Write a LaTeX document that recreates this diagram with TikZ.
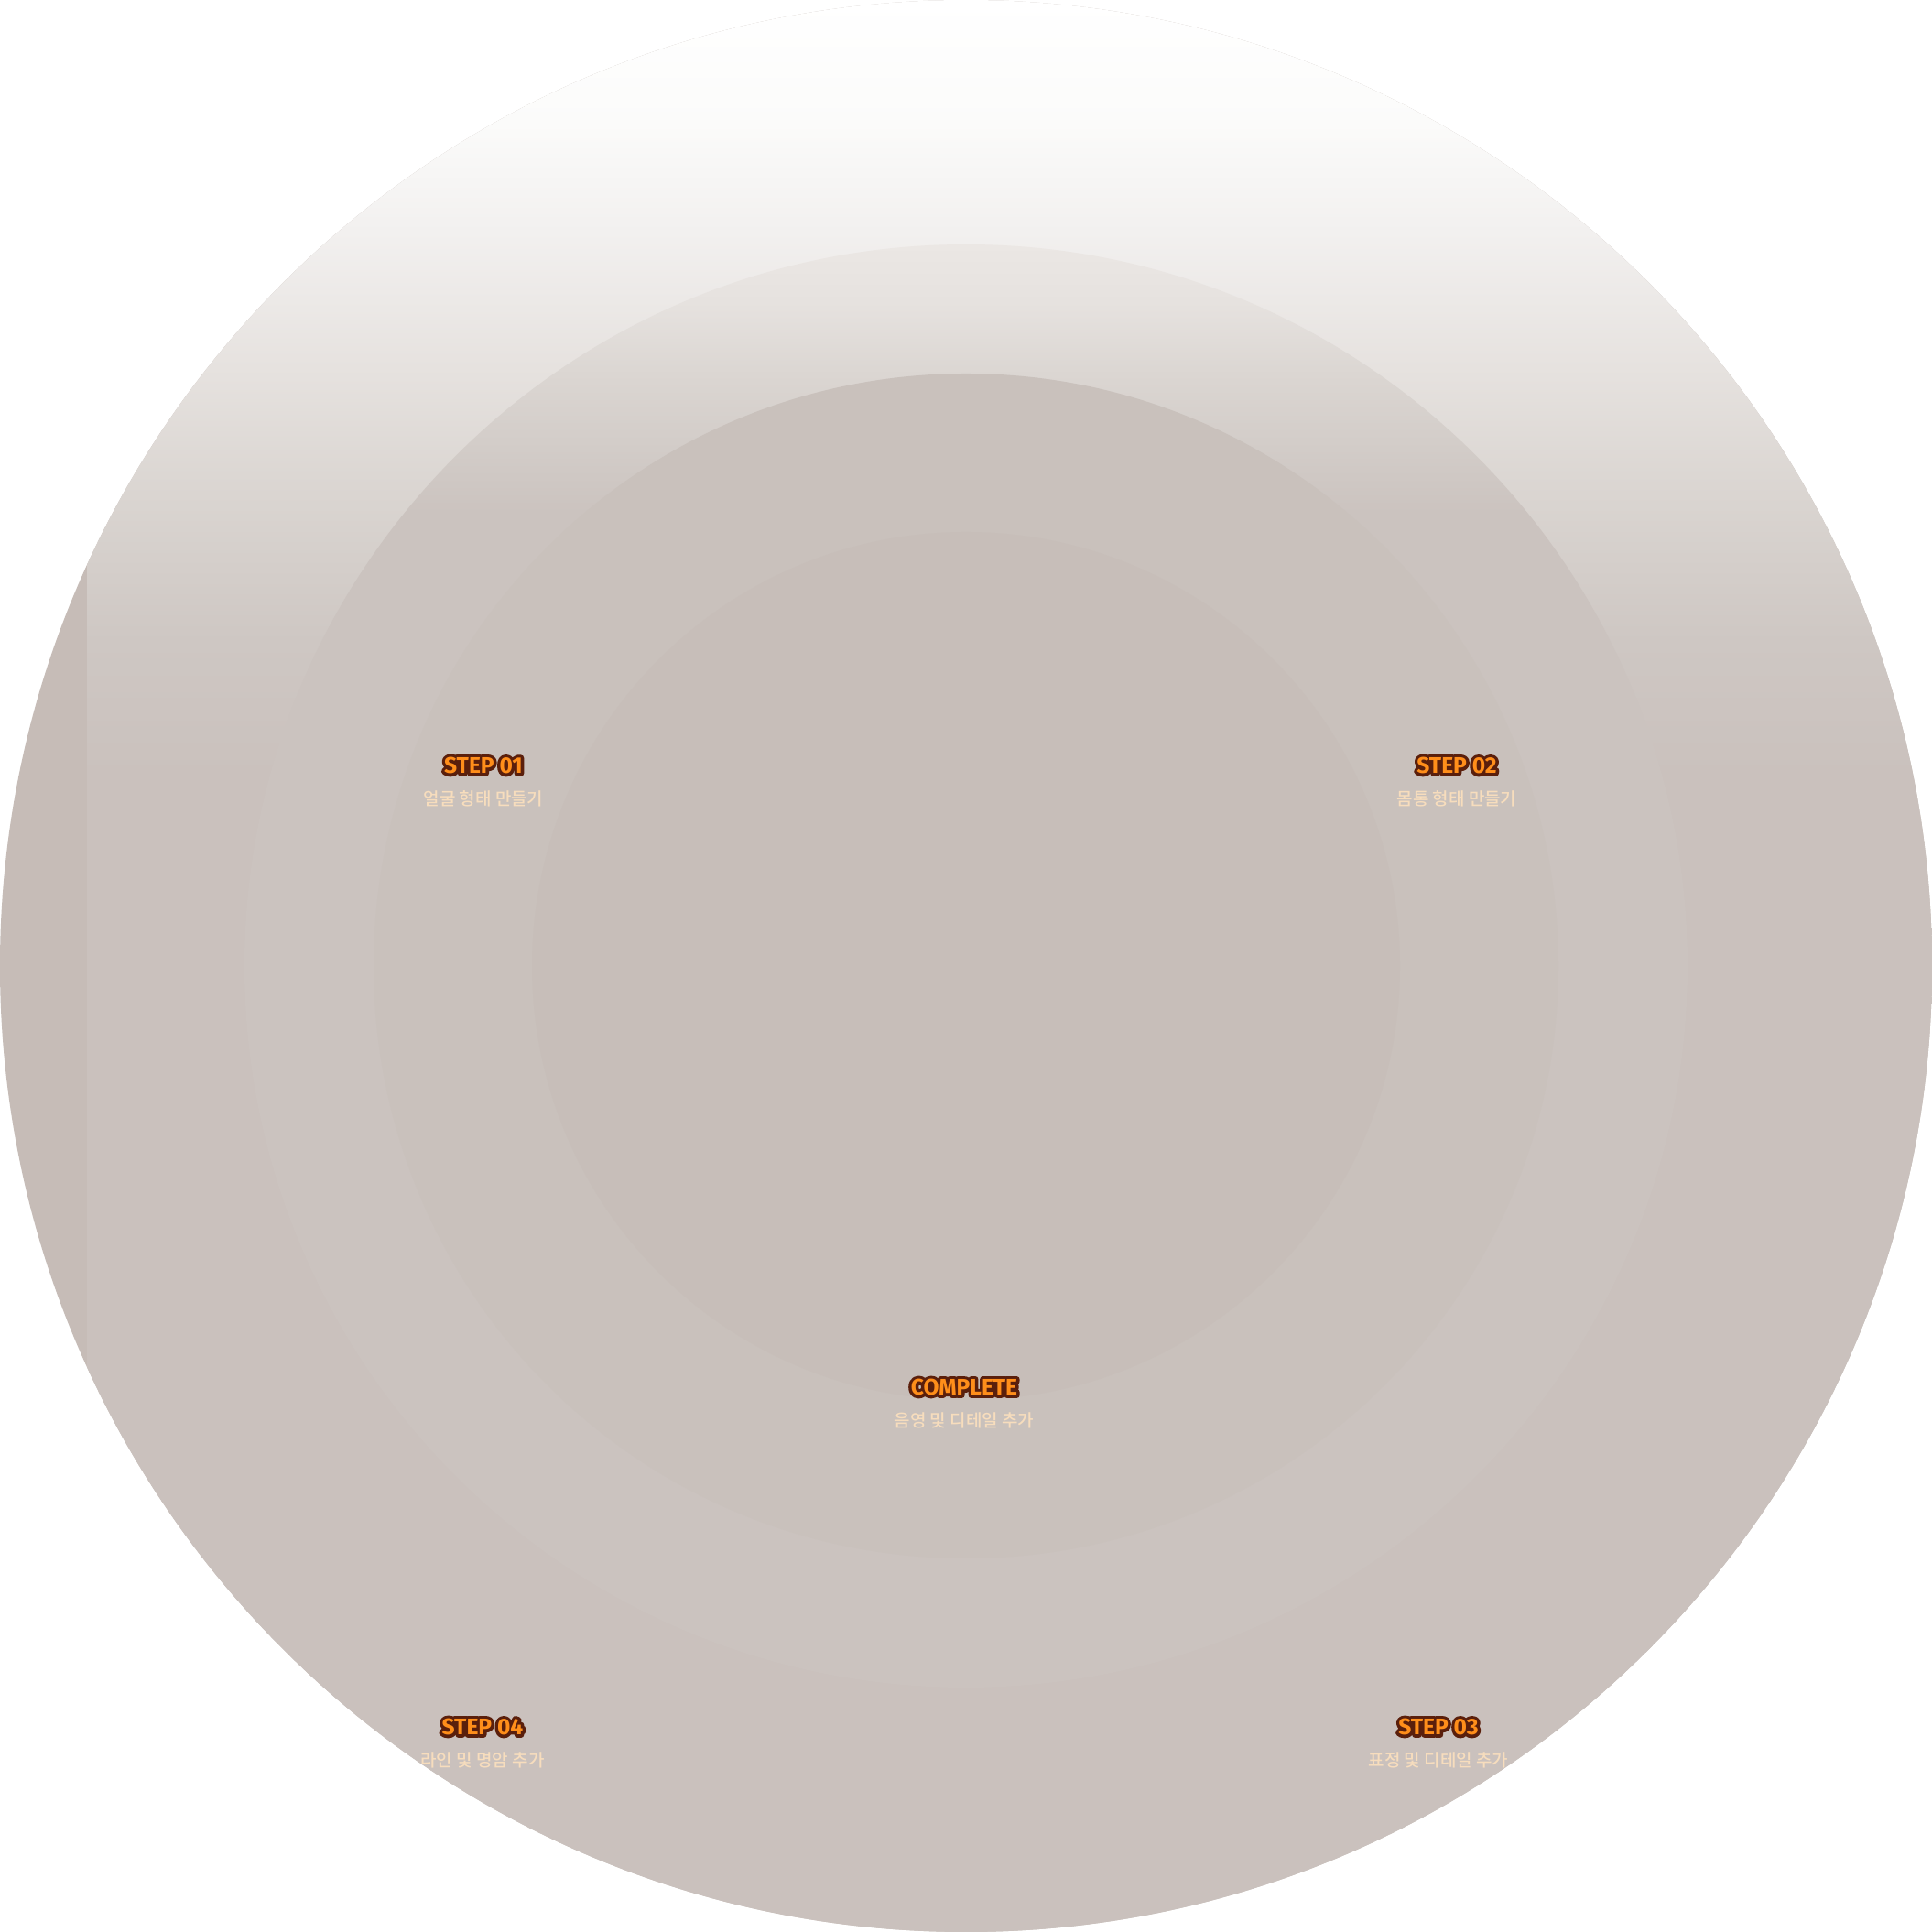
\documentclass[tikz,border=0pt]{standalone}
\usepackage{fontspec}
\setmainfont{Fira Sans}
\newfontfamily\stepfill{Fira Sans Bold}
\newfontfamily\stepline{Fira Sans Bold}[FakeBold=28]
\newfontfamily\kofont{Noto Sans CJK KR Medium}
\usetikzlibrary{positioning}
\definecolor{RingOuter}{HTML}{C6BCB7}
\definecolor{Veil}{HTML}{CAC1BD}
\definecolor{GlowA}{HTML}{FBFBFA}
\definecolor{GlowB}{HTML}{F2F0EF}
\definecolor{GlowC}{HTML}{E6E2DF}
\definecolor{GlowD}{HTML}{DAD5D1}
\definecolor{GlowE}{HTML}{CEC7C3}
\definecolor{RingTwo}{HTML}{CBC3BF}
\definecolor{TwoA}{HTML}{EBE7E4}
\definecolor{TwoB}{HTML}{E6E2DF}
\definecolor{TwoC}{HTML}{DBD6D2}
\definecolor{TwoD}{HTML}{D3CDC9}
\definecolor{RingThree}{HTML}{C9C1BC}
\definecolor{Core}{HTML}{C7BEB9}
\definecolor{Tangerine}{HTML}{FF8E1A}
\definecolor{Cocoa}{HTML}{5A1F0C}
\definecolor{Peach}{HTML}{F7DDBD}
\pgfdeclareverticalshading{veilshade}{100bp}{color(0bp)=(Veil); color(25bp)=(Veil); color(54.9bp)=(Veil); color(58.4bp)=(GlowE); color(62.2bp)=(GlowD); color(65.5bp)=(GlowC); color(69bp)=(GlowB); color(71.8bp)=(GlowA); color(75bp)=(white); color(100bp)=(white)}
\pgfdeclareverticalshading{twoshade}{100bp}{color(0bp)=(RingTwo); color(25bp)=(RingTwo); color(65.7bp)=(RingTwo); color(68.2bp)=(TwoD); color(70.5bp)=(TwoC); color(73bp)=(TwoB); color(75bp)=(TwoA); color(100bp)=(TwoA)}
\tikzset{
  stepedge/.style={font=\stepline\fontsize{7}{8}\selectfont,text=Cocoa,inner sep=0pt},
  stepbox/.style={font=\stepfill\fontsize{7}{8}\selectfont,text=Tangerine,inner sep=0pt},
  subbox/.style={font=\kofont\fontsize{5.4}{6}\selectfont,text=Peach,inner sep=0pt}
}

\begin{document}
\begin{tikzpicture}[node distance=0.17cm]
  \useasboundingbox (0,0) rectangle (21.1,21.1);
  \fill[white] (0,0) rectangle (21.1,21.1);
  \coordinate (mid) at (10.55,10.55);
  % rings
  \fill[RingOuter] (mid) circle (10.55);
  \begin{scope}
    \clip (mid) circle (10.55);
    \shade[shading=veilshade] (0.95,0) rectangle (21.1,21.1);
  \end{scope}
  \shade[shading=twoshade] (mid) circle (7.88);
  \fill[RingThree] (mid) circle (6.47);
  \fill[Core] (mid) circle (4.74);
  % labels
  \begin{scope}[line join=round]
    \node[stepedge] (e1) at (5.28,12.74) {STEP 01};
    \node[stepbox] (s1) at (e1) {STEP 01};
    \node[subbox,below=of s1] (t1) {얼굴 형태 만들기};
    \node[stepedge] (e2) at (15.91,12.74) {STEP 02};
    \node[stepbox] (s2) at (e2) {STEP 02};
    \node[subbox,below=of s2] (t2) {몸통 형태 만들기};
    \node[stepedge] (e3) at (15.71,2.24) {STEP 03};
    \node[stepbox] (s3) at (e3) {STEP 03};
    \node[subbox,below=of s3] (t3) {표정 및 디테일 추가};
    \node[stepedge] (e4) at (5.27,2.24) {STEP 04};
    \node[stepbox] (s4) at (e4) {STEP 04};
    \node[subbox,below=of s4] (t4) {라인 및 명암 추가};
    \node[stepedge] (edone) at (10.53,5.95) {COMPLETE};
    \node[stepbox] (done) at (edone) {COMPLETE};
    \node[subbox,below=of done] (tdone) {음영 및 디테일 추가};
  \end{scope}
\end{tikzpicture}
\end{document}
